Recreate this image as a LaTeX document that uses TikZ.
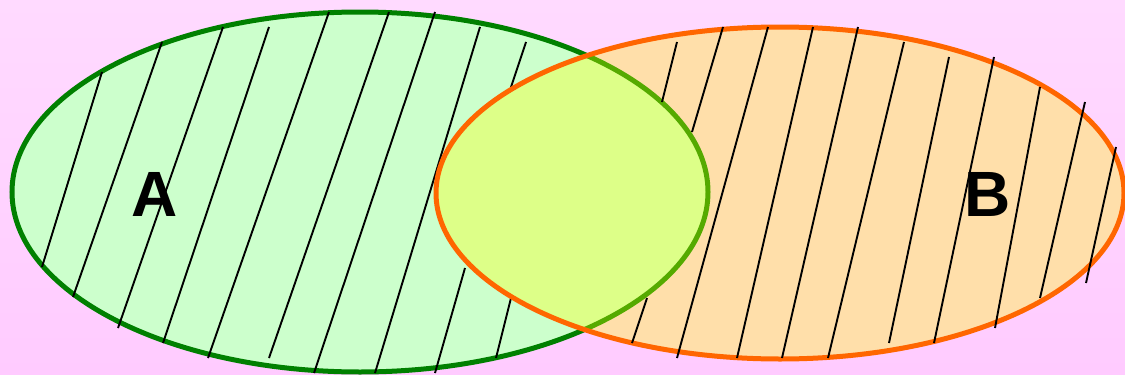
\documentclass[tikz,border=0pt]{standalone}
\usepackage{fontspec}
\setmainfont{Liberation Sans}
\definecolor{bgtop}{HTML}{FFDAFF}
\definecolor{bgbot}{HTML}{FFCBFF}
\definecolor{Afill}{HTML}{CCFFCC}
\definecolor{Bfill}{HTML}{FFDFAA}
\definecolor{Ifill}{HTML}{DDFF88}
\definecolor{Astroke}{HTML}{008000}
\definecolor{Alime}{HTML}{55AA00}
\definecolor{Bstroke}{HTML}{FF6600}
\tikzset{
  hatchline/.style={black, line width=1.9pt},
  setlabel/.style={font=\fontsize{64}{64}\selectfont\bfseries, inner sep=0pt},
  rim/.style={line width=5pt},
}
\begin{document}
\begin{tikzpicture}[x=1pt,y=-1pt]
\useasboundingbox (0,0) rectangle (1125,375);
\shade[top color=bgtop,bottom color=bgbot] (0,0) rectangle (1125,375);
\def\ellA{(360,192) ellipse [x radius=348,y radius=180]}
\def\ellB{(780,193) ellipse [x radius=344,y radius=166]}
% set A
\fill[Afill] \ellA;
\draw[Astroke, rim] \ellA;
\foreach \a/\b/\c/\d in {102/72/42/267, 162/42/73/297, 223/27/118/328, 269/27/163/343,
  329/12/208/358, 389/12/269/358, 435/12/314/373, 480/27/375/373, 526/42/511/87,
  465/268/435/373, 511/298/496/358}
  \draw[hatchline] (\a,\b) -- (\c,\d);
% set B
\fill[Bfill] \ellB;
\begin{scope}
  \clip \ellB;
  \fill[Ifill] \ellA;
  \draw[Alime, rim] \ellA;
\end{scope}
\draw[Bstroke, rim] \ellB;
\foreach \a/\b/\c/\d in {677/42/662/102, 723/27/692/132, 768/27/677/358, 813/27/737/358,
  858/27/782/358, 904/42/828/358, 949/57/889/343, 994/57/934/343, 1040/87/995/328,
  1085/102/1040/298, 1116/147/1086/283, 647/298/632/343}
  \draw[hatchline] (\a,\b) -- (\c,\d);
\node[setlabel] (labelA) at (155,194) {A};
\node[setlabel] (labelB) at (988,194) {B};
\end{tikzpicture}
\end{document}
